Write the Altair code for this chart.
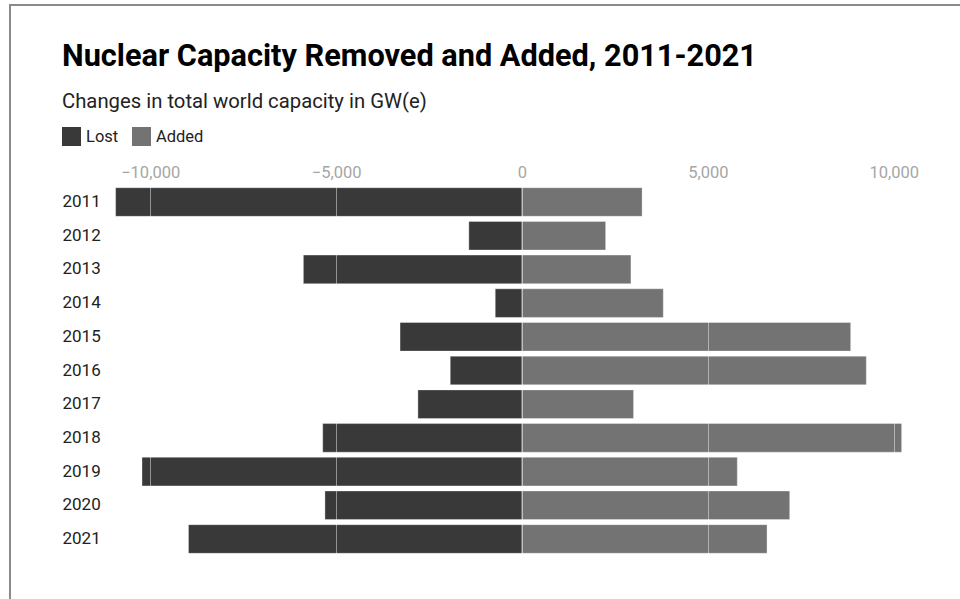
import altair as alt
import pandas as pd

years = ["2011", "2012", "2013", "2014", "2015", "2016", "2017", "2018", "2019", "2020", "2021"]
lost = [-10930, -1430, -5880, -720, -3280, -1930, -2800, -5360, -10220, -5300, -8970]
added = [3230, 2250, 2930, 3800, 8840, 9260, 3000, 10210, 5790, 7200, 6590]
series = ["Lost", "Added"]
colors = ["#393939", "#737373"]
tick_values = [-10000, -5000, 0, 5000, 10000]

rows = []
for y, l, a in zip(years, lost, added):
    rows.append({"year": y, "type": "Lost", "value": l})
    rows.append({"year": y, "type": "Added", "value": a})
df = pd.DataFrame(rows)

FONT = "Roboto"

bars = alt.Chart(df).mark_bar(
    stroke="white", strokeWidth=1, strokeOpacity=0.35
).encode(
    x=alt.X(
        "value:Q",
        stack=None,
        scale=alt.Scale(domain=[-11000, 11000], nice=False),
        axis=alt.Axis(
            orient="top",
            values=tick_values,
            format=",.0f",
            title=None,
            ticks=False,
            tickSize=0,
            domain=False,
            grid=True,
            gridColor="white",
            gridOpacity=0.45,
            gridWidth=1,
            labelColor="#a6a6a6",
            labelFontSize=16.5,
            labelFont=FONT,
            labelPadding=5,
            zindex=1,
        ),
    ),
    y=alt.Y(
        "year:N",
        sort=years,
        scale=alt.Scale(paddingInner=0.15, paddingOuter=0.08),
        axis=alt.Axis(
            title=None,
            ticks=False,
            tickSize=0,
            domain=False,
            grid=False,
            labelAlign="left",
            labelPadding=51,
            labelFontSize=17,
            labelFont=FONT,
            labelColor="#222222",
        ),
    ),
    color=alt.Color(
        "type:N",
        scale=alt.Scale(domain=series, range=colors),
        legend=alt.Legend(
            title=None,
            orient="none",
            legendX=-51,
            legendY=-58,
            direction="horizontal",
            symbolType="square",
            symbolSize=361,
            symbolStrokeWidth=0,
            symbolOpacity=1,
            labelFontSize=16.5,
            labelFont=FONT,
            labelColor="#222222",
            labelOffset=5,
            columnPadding=13,
            padding=0,
        ),
    ),
)

frame_data = alt.Data(values=[{"k": 1}])
frame_left = alt.Chart(frame_data).mark_rule(color="#8a8a8a", strokeWidth=2).encode(
    x=alt.value(-103), y=alt.value(-180), y2=alt.value(420)
)
frame_top = alt.Chart(frame_data).mark_rule(color="#8a8a8a", strokeWidth=2).encode(
    x=alt.value(-104), x2=alt.value(860), y=alt.value(-180)
)

chart = alt.layer(bars, frame_left, frame_top).properties(
    width=818,
    height=371,
    autosize=alt.AutoSizeParams(type="none"),
    padding={"left": 113, "top": 185, "right": 29, "bottom": 43},
    background="white",
    title=alt.TitleParams(
        text="Nuclear Capacity Removed and Added, 2011-2021",
        subtitle="Changes in total world capacity in GW(e)",
        anchor="start",
        frame="group",
        dx=-51,
        dy=109,
        offset=0,
        font=FONT,
        fontSize=30.7,
        fontWeight="bold",
        color="#000000",
        subtitleFont=FONT,
        subtitleFontSize=20.3,
        subtitleColor="#222222",
        subtitlePadding=19,
    ),
).configure_view(stroke=None, strokeWidth=0)

chart.save("out.html", embed_options={"renderer": "svg", "actions": False})
